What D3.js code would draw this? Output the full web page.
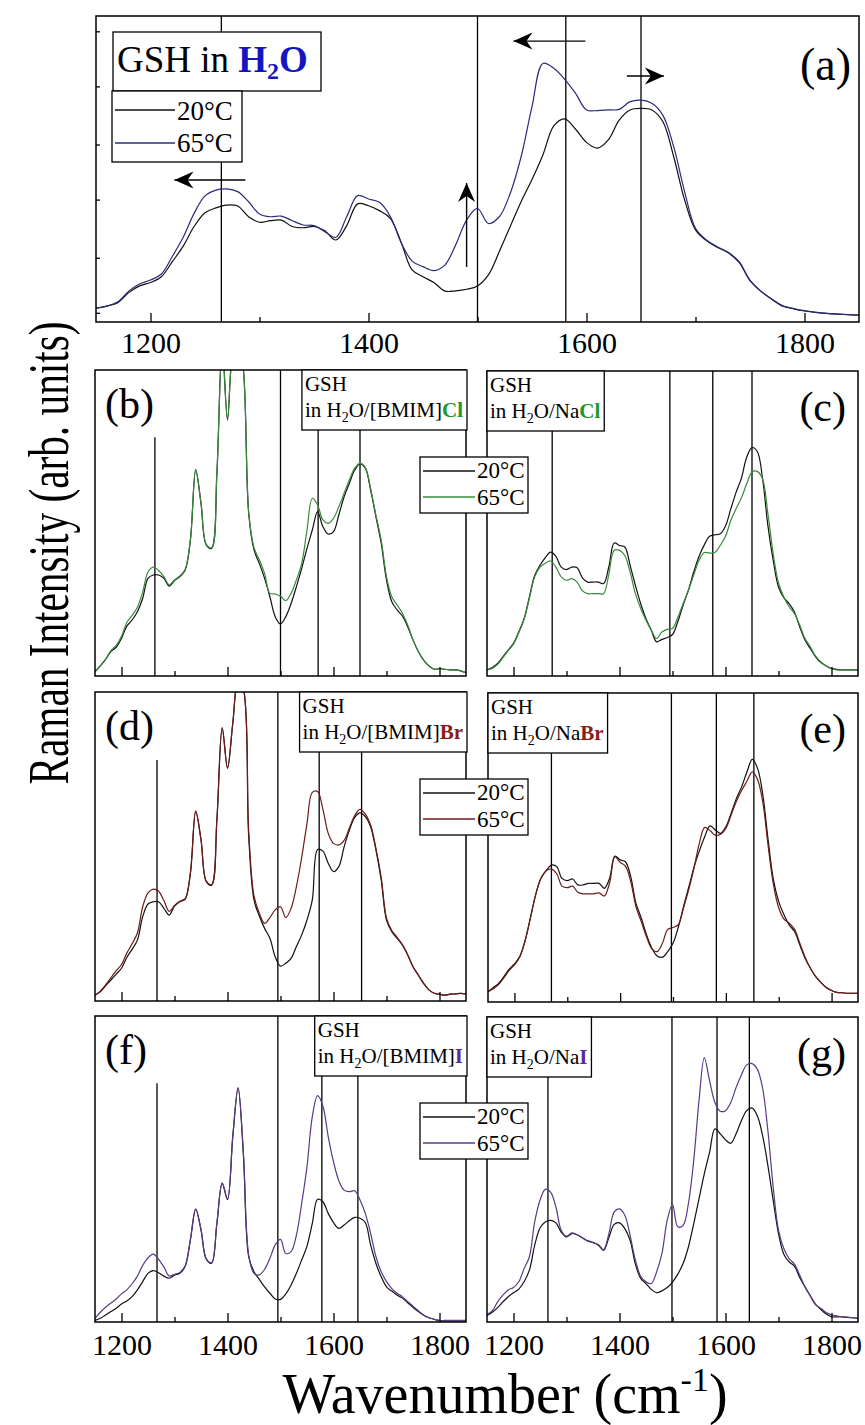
<!DOCTYPE html>
<html>
<head>
<meta charset="utf-8">
<script src="https://cdn.jsdelivr.net/npm/d3@7"></script>
<style>
  body { margin: 0; background: #fff; }
  svg { display: block; }
  svg text { font-family: 'Liberation Serif', 'Times New Roman', serif; }
</style>
</head>
<body>
<div id="chart"></div>
<script>
// wavenumber grid (cm-1)
const wn = [1150,1160,1170,1180,1190,1200,1210,1220,1230,1240,1250,1260,1270,1280,1290,1300,1310,1320,1330,1340,
  1350,1360,1370,1380,1390,1400,1410,1420,1430,1440,1450,1460,1470,1480,1490,1500,1510,1520,1530,1540,
  1550,1560,1570,1580,1590,1600,1610,1620,1630,1640,1650,1660,1670,1680,1690,1700,1710,1720,1730,1740,
  1750,1760,1770,1780,1790,1800,1810,1820,1830,1840,1850];

// intensities (arb. units, 0-100 = panel height), 20°C and 65°C
const aCold = [4.5,5.2,6.3,9.6,11.8,12.9,14.8,19.7,24.8,31.2,35.7,37.3,38.2,37.9,34.4,32.6,33.1,33.3,31.2,30.8,
  31.2,29.8,26.8,31.5,38.6,38.0,36.4,33.9,26.0,17.0,14.8,12.9,10.1,10.2,10.7,11.8,15.4,23.0,31.2,39.3,
  46.6,54.6,64.1,66.4,63.0,58.7,56.8,59.5,66.0,69.3,69.8,69.3,65.5,54.0,39.9,30.1,26.6,24.4,22.6,19.5,
  13.5,10.0,7.4,5.2,4.3,3.6,3.1,2.8,2.6,2.4,2.2];
const aHot = [4.5,5.2,6.6,10.1,12.4,13.7,15.7,21.4,27.7,35.5,41.2,43.1,43.5,42.6,39.3,35.3,34.4,34.6,33.1,31.7,
  31.5,29.5,27.7,34.4,41.3,40.2,39.1,34.5,25.9,19.9,18.1,16.8,18.6,25.2,33.3,37.1,32.2,34.4,42.0,54.0,
  70.4,84.5,82.9,79.3,74.7,69.3,69.1,69.3,69.5,72.0,72.5,71.5,67.6,57.3,42.6,30.6,26.8,24.6,22.8,19.7,
  13.7,10.1,7.5,5.3,4.4,3.7,3.2,2.8,2.6,2.4,2.3];
const bCold = [1.4,3.3,5.4,8.0,9.4,12.3,16.3,18.3,21.0,25.4,31.9,33.0,33.0,31.9,29.4,31.2,32.5,34.6,44.4,67.3,
  56.4,42.8,41.7,66.2,108,83.7,106,110,100,53.2,41.2,36.8,31.9,25.9,19.4,17.0,19.4,23.7,29.2,35.2,
  41.7,47.7,53.7,48.8,46.4,47.2,52.6,58.6,63.0,67.3,69.3,67.9,60.8,52.1,43.4,31.4,24.3,21.6,19.6,16.1,
  11.8,8.0,5.2,3.3,2.2,2.4,2.2,2.0,2.0,1.7,1.1];
const bHot = [1.4,3.3,5.4,8.3,10.0,13.0,17.5,19.8,22.5,27.5,34.0,35.6,34.5,32.5,29.8,31.4,32.7,34.8,44.6,67.5,
  56.6,43.0,41.9,66.4,108,84.0,106,110,100,53.5,42.0,38.0,33.5,27.0,26.8,26.1,24.6,27.0,31.4,36.8,
  47.7,58.1,55.9,51.0,49.9,51.5,55.3,59.7,64.1,67.9,69.5,68.2,61.3,52.6,44.4,32.5,25.9,23.2,20.5,16.7,
  11.8,8.0,5.2,3.3,2.2,2.4,2.2,2.0,2.0,1.7,1.1];
const cCold = [2.0,2.8,4.1,6.3,8.5,10.7,14.5,18.8,25.9,33.0,36.3,38.8,40.6,39.2,35.7,34.9,35.7,35.5,32.2,30.8,
  30.8,30.8,30.3,35.9,43.6,42.8,42.3,36.3,29.7,23.7,18.8,15.0,11.2,12.0,12.6,13.6,17.8,23.2,28.1,34.1,
  39.2,43.0,45.8,46.3,46.6,49.2,54.8,60.2,64.9,71.7,74.9,73.6,64.6,49.3,37.9,29.2,25.7,23.7,21.0,16.1,
  11.8,9.0,6.3,4.4,3.3,2.5,2.2,2.0,2.0,2.0,2.0];
const cHot = [2.0,2.5,3.8,6.0,8.3,10.5,14.2,18.5,25.5,32.5,35.7,37.0,37.7,35.7,32.5,31.4,31.9,30.8,27.9,27.0,
  27.0,27.0,27.0,33.5,41.2,41.2,39.5,34.1,27.0,22.1,18.3,15.0,12.3,14.4,15.3,15.6,19.2,23.7,28.1,33.0,
  37.9,40.5,40.3,40.5,42.8,45.8,51.0,54.8,58.4,63.0,66.9,67.1,64.6,53.2,40.1,30.5,25.9,22.7,20.5,16.7,
  12.3,9.6,6.5,4.6,3.3,2.4,2.0,2.0,2.0,2.0,2.0];
const dCold = [1.9,3.0,4.9,6.8,8.7,10.6,14.1,16.7,19.7,27.3,31.4,32.1,32.1,30.0,27.8,30.7,32.1,32.9,41.3,61.3,
  52.1,38.6,37.5,58.6,88.2,75.3,89.9,104,101,53.2,32.7,27.5,23.5,20.3,14.3,11.3,12.2,13.8,17.6,21.4,
  26.2,32.7,49.0,48.5,44.6,41.9,43.5,49.9,55.3,59.4,60.9,59.7,56.4,48.9,39.2,26.2,22.4,20.3,18.1,14.9,
  11.1,8.4,5.7,3.6,2.5,2.2,1.9,2.2,2.3,2.5,2.3];
const dHot = [1.9,3.2,5.2,7.5,9.8,11.8,15.5,18.5,22.0,30.5,35.0,36.2,35.5,32.5,29.0,30.9,32.3,33.1,41.5,61.5,
  52.3,38.8,37.7,58.8,88.5,75.5,90.0,104,101,55.0,34.0,28.4,25.1,27.0,29.5,30.5,27.0,30.0,37.0,46.5,
  57.5,67.5,67.8,62.0,54.3,51.0,50.5,52.0,56.0,60.0,62.0,60.5,57.0,49.5,40.0,26.8,22.8,20.6,18.3,15.0,
  11.1,8.4,5.7,3.6,2.5,2.2,1.9,2.2,2.3,2.5,2.3];
const eCold = [3.3,4.7,6.0,8.2,10.6,12.3,14.7,19.8,27.1,34.6,40.0,42.5,44.3,43.8,40.0,39.3,39.8,37.9,37.9,38.4,
  38.4,38.4,36.8,40.0,47.2,46.0,45.4,40.6,31.9,27.1,21.7,17.4,14.9,14.5,16.3,19.0,24.2,30.9,37.3,43.8,
  49.0,53.5,57.0,55.7,54.6,56.7,61.1,65.9,69.7,74.5,78.5,75.6,67.0,52.4,39.5,32.5,28.2,24.9,22.8,18.4,
  14.1,10.9,8.2,6.3,4.7,3.7,3.1,3.0,2.8,2.8,2.8];
const eHot = [3.3,4.3,5.6,7.8,10.2,12.0,14.5,19.6,27.0,34.6,40.0,42.5,43.0,41.5,37.5,37.0,37.5,35.5,35.0,35.0,
  35.0,35.3,34.3,38.5,47.0,45.2,44.0,39.0,30.8,26.0,21.0,17.2,16.3,19.0,23.5,24.1,25.0,30.5,36.5,43.5,
  51.5,56.5,55.5,54.0,54.3,56.2,60.5,65.0,68.5,71.5,74.5,72.0,64.5,50.5,38.0,30.5,26.8,25.5,23.5,19.0,
  14.5,10.9,8.2,6.3,4.7,3.7,3.1,3.0,2.8,2.8,2.8];
const fCold = [0.5,1.2,2.3,3.4,4.5,5.9,6.9,8.3,10.5,13.2,15.9,16.8,16.1,15.0,14.3,15.3,15.9,18.1,26.8,36.8,
  30.1,20.5,19.2,32.2,45.3,40.0,60.6,76.4,54.6,21.4,16.4,13.9,11.5,9.4,7.5,7.4,9.2,12.1,15.9,20.3,
  24.8,32.2,40.1,39.3,35.5,32.5,30.6,31.7,33.1,34.2,33.9,32.5,25.2,19.2,14.8,11.5,10.1,8.8,7.8,6.3,
  4.8,3.4,2.2,1.4,0.9,0.4,0.4,0.4,0.4,0.4,0.4];
const fHot = [1.2,3.2,4.8,6.2,7.5,9.2,10.5,12.5,15.0,18.5,21.0,22.2,20.5,18.0,15.0,15.6,16.2,18.3,27.0,37.0,
  30.3,20.7,19.4,32.4,45.5,40.2,60.8,76.6,55.2,21.8,15.9,15.4,17.2,20.8,25.2,27.0,22.4,23.0,28.4,38.8,
  50.8,67.1,74.0,70.6,60.6,52.4,46.2,43.1,42.6,42.9,39.9,35.5,29.0,21.4,16.4,13.2,10.9,9.4,8.3,6.6,
  5.2,3.7,2.3,1.4,0.9,0.5,0.5,0.5,0.5,0.5,0.5];
const gCold = [2.1,3.2,4.7,6.6,8.3,9.6,10.8,13.2,17.0,25.2,30.8,32.8,33.3,32.5,29.5,27.9,29.0,28.6,27.6,26.6,
  26.1,25.2,23.5,27.7,32.0,32.5,30.6,26.8,19.0,14.3,12.6,10.7,9.6,10.2,11.3,13.1,15.7,19.2,24.6,32.2,
  40.4,48.6,55.7,63.3,61.7,59.7,58.6,61.7,66.0,69.3,70.2,67.6,61.1,51.3,39.9,29.0,22.2,19.7,18.3,14.6,
  11.5,8.6,5.8,4.1,2.6,1.7,1.7,1.7,1.5,1.4,1.2];
const gHot = [2.5,3.7,6.6,8.8,10.5,11.3,13.2,17.5,21.4,32.8,39.9,43.5,42.6,37.7,30.1,28.1,29.2,28.6,27.6,26.6,
  26.0,25.4,23.7,29.0,36.1,37.1,35.0,28.4,20.3,15.0,13.2,12.6,16.4,22.4,33.3,38.6,31.2,31.7,38.8,52.9,
  72.5,86.7,79.1,72.0,69.1,69.3,72.0,76.9,81.0,84.3,84.7,82.9,76.7,62.7,44.2,30.1,24.1,20.8,19.0,15.4,
  11.5,8.5,5.6,4.5,3.1,2.3,2.0,1.7,1.6,1.4,1.2];

// reference band positions (cm-1) per panel
const aMarks = [1265, 1500, 1581, 1650];
const bMarks = [1263, 1500, 1571, 1650];
const cMarks = [1273, 1495, 1576, 1650];
const dMarks = [1267, 1495, 1573, 1653];
const eMarks = [1270, 1497, 1582, 1653];
const fMarks = [1267, 1495, 1578, 1646];
const gMarks = [1265, 1499, 1584, 1645];

// axis ticks
const majorTicks = [1200, 1400, 1600, 1800];
const minorTicks = [1300, 1500, 1700];
const aTicksY = [3, 21, 40, 58, 77, 95];
const seriesNames = ["20°C", "65°C"];

// shift arrows in (a): [wavenumber, intensity] start -> end
const aArrows = [
  { from: [1287, 46.4], to: [1222, 46.4] },
  { from: [1490, 18.0], to: [1490, 45.4] },
  { from: [1599, 91.8], to: [1533, 91.8] },
  { from: [1637, 80.4], to: [1671, 80.4] }
];

const SERIF = "'Liberation Serif', 'Times New Roman', serif";
const W = 865, H = 1425;
const svg = d3.select("#chart").append("svg")
    .attr("width", W).attr("height", H)
    .style("font-family", SERIF);

svg.append("defs").append("marker")
    .attr("id", "head")
    .attr("viewBox", "-20 -10 20 20")
    .attr("refX", 0).attr("refY", 0)
    .attr("markerWidth", 20).attr("markerHeight", 20)
    .attr("markerUnits", "userSpaceOnUse")
    .attr("orient", "auto")
  .append("path")
    .attr("d", "M0,0 L-19,-8.5 L-13,0 L-19,8.5 Z")
    .attr("fill", "#000");

const panels = [
  { id: "a", tag: "(a)", cold: aCold, hot: aHot, color: "#2b2b7c", marks: aMarks,
    x0: 96, x1: 859, y0: 16, y1: 322, side: "top", labels: true, labelPad: 10 },
  { id: "b", tag: "(b)", cold: bCold, hot: bHot, color: "#3b8a3b", marks: bMarks,
    x0: 95, x1: 466, y0: 370, y1: 676, side: "left", salt: "[BMIM]", ion: "Cl", ionColor: "#22962a" },
  { id: "c", tag: "(c)", cold: cCold, hot: cHot, color: "#3b8a3b", marks: cMarks,
    x0: 487, x1: 858, y0: 371, y1: 676, side: "right", salt: "Na", ion: "Cl", ionColor: "#22962a" },
  { id: "d", tag: "(d)", cold: dCold, hot: dHot, color: "#6e1b1b", marks: dMarks,
    x0: 95, x1: 466, y0: 692, y1: 1001, side: "left", salt: "[BMIM]", ion: "Br", ionColor: "#8a1c1c" },
  { id: "e", tag: "(e)", cold: eCold, hot: eHot, color: "#6e1b1b", marks: eMarks,
    x0: 488, x1: 858, y0: 693, y1: 1002, side: "right", salt: "Na", ion: "Br", ionColor: "#8a1c1c" },
  { id: "f", tag: "(f)", cold: fCold, hot: fHot, color: "#5a3a88", marks: fMarks,
    x0: 95, x1: 466, y0: 1016, y1: 1322, side: "left", salt: "[BMIM]", ion: "I", ionColor: "#5b2a9c",
    labels: true, labelPad: 12 },
  { id: "g", tag: "(g)", cold: gCold, hot: gHot, color: "#5a3a88", marks: gMarks,
    x0: 487, x1: 858, y0: 1017, y1: 1322, side: "right", salt: "Na", ion: "I", ionColor: "#5b2a9c",
    labels: true, labelPad: 12 }
];

function drawPanel(p) {
  const x = d3.scaleLinear().domain([1150, 1850]).range([p.x0, p.x1]);
  const y = d3.scaleLinear().domain([0, 100]).range([p.y1, p.y0]);
  const g = svg.append("g").attr("class", "panel-" + p.id);

  svg.select("defs").append("clipPath").attr("id", "clip-" + p.id)
    .append("rect")
      .attr("x", p.x0).attr("y", p.y0)
      .attr("width", p.x1 - p.x0).attr("height", p.y1 - p.y0);

  // band markers
  g.selectAll(".mark")
    .data(p.marks)
    .join("line")
      .attr("class", "mark")
      .attr("x1", d => x(d)).attr("x2", d => x(d))
      .attr("y1", (d, i) => y(p.side === "left" && i === 0 ? 78 : 100))
      .attr("y2", p.y1)
      .attr("stroke", "#000")
      .attr("stroke-width", 1.3);

  // spectra
  const line = d3.line()
    .x((d, i) => x(wn[i]))
    .y(d => y(d))
    .curve(d3.curveCatmullRom.alpha(0.5));

  g.append("path").datum(p.cold)
    .attr("d", line)
    .attr("clip-path", `url(#clip-${p.id})`)
    .attr("fill", "none").attr("stroke", "#111").attr("stroke-width", 1.2);

  g.append("path").datum(p.hot)
    .attr("d", line)
    .attr("clip-path", `url(#clip-${p.id})`)
    .attr("fill", "none").attr("stroke", p.color).attr("stroke-width", 1.2);

  // bottom ticks (inward)
  const major = g.append("g")
    .attr("transform", `translate(0,${p.y1})`)
    .call(d3.axisBottom(x).tickValues(majorTicks).tickSize(-9)
      .tickPadding(p.labelPad || 0)
      .tickFormat(p.labels ? d3.format("d") : () => ""));
  major.attr("font-family", null);
  major.select(".domain").remove();
  major.selectAll("line").attr("stroke-width", 1.3);
  major.selectAll("text").attr("font-size", 30).attr("fill", "#000");

  const minor = g.append("g")
    .attr("transform", `translate(0,${p.y1})`)
    .call(d3.axisBottom(x).tickValues(minorTicks).tickSize(-5).tickFormat(() => ""));
  minor.select(".domain").remove();
  minor.selectAll("line").attr("stroke-width", 1.3);

  if (p.id === "a") {
    const left = g.append("g")
      .attr("transform", `translate(${p.x0},0)`)
      .call(d3.axisLeft(y).tickValues(aTicksY).tickSize(-4).tickFormat(() => ""));
    left.select(".domain").remove();
    left.selectAll("line").attr("stroke-width", 1.3);
  }

  // frame
  g.append("rect")
    .attr("x", p.x0).attr("y", p.y0)
    .attr("width", p.x1 - p.x0).attr("height", p.y1 - p.y0)
    .attr("fill", "none").attr("stroke", "#000").attr("stroke-width", 1.5);

  // panel tag
  if (p.id === "a") {
    g.append("text").attr("x", p.x1 - 8).attr("y", p.y0 + 64)
      .attr("text-anchor", "end").attr("font-size", 46).text(p.tag);
  } else if (p.side === "left") {
    g.append("text").attr("x", p.x0 + 10).attr("y", p.y0 + 48)
      .attr("font-size", 42).text(p.tag);
  } else {
    g.append("text").attr("x", p.x1 - 12).attr("y", p.y0 + 50)
      .attr("text-anchor", "end").attr("font-size", 42).text(p.tag);
  }

  if (p.id === "a") drawLegendA(g, p, x, y);
  else drawSampleBox(g, p);
}

function drawLegendA(g, p, x, y) {
  // title box
  g.append("rect").attr("x", 113).attr("y", 32).attr("width", 208).attr("height", 59)
    .attr("fill", "#fff").attr("stroke", "#000").attr("stroke-width", 1.3);
  const t = g.append("text").attr("x", 117).attr("y", 72).attr("font-size", 37);
  t.append("tspan").text("GSH in ");
  const hb = t.append("tspan").attr("font-weight", "bold").attr("fill", "#1515c0");
  hb.append("tspan").text("H");
  hb.append("tspan").attr("font-size", 24).attr("dy", 7).text("2");
  hb.append("tspan").attr("dy", -7).text("O");

  // series legend
  g.append("rect").attr("x", 112).attr("y", 91).attr("width", 130).attr("height", 71)
    .attr("fill", "#fff").attr("stroke", "#000").attr("stroke-width", 1.3);
  const rows = g.selectAll(".lgA").data(seriesNames).join("g").attr("class", "lgA");
  rows.append("line")
    .attr("x1", 115).attr("x2", 175)
    .attr("y1", (d, i) => 110 + i * 33).attr("y2", (d, i) => 110 + i * 33)
    .attr("stroke", (d, i) => i ? p.color : "#111").attr("stroke-width", 1.3);
  rows.append("text")
    .attr("x", 177).attr("y", (d, i) => 120 + i * 32)
    .attr("font-size", 27).text(d => d);

  // arrows
  g.selectAll(".arrow").data(aArrows).join("line")
    .attr("class", "arrow")
    .attr("x1", d => x(d.from[0])).attr("y1", d => y(d.from[1]))
    .attr("x2", d => x(d.to[0])).attr("y2", d => y(d.to[1]))
    .attr("stroke", "#000").attr("stroke-width", 1.4)
    .attr("marker-end", "url(#head)");
}

function drawSampleBox(g, p) {
  const lg = g.append("g");
  const t1 = lg.append("text").attr("font-size", 21).text("GSH");
  const t2 = lg.append("text").attr("font-size", 21);
  t2.append("tspan").text("in H");
  t2.append("tspan").attr("font-size", 14).attr("dy", 5).text("2");
  t2.append("tspan").attr("dy", -5).text("O/" + p.salt);
  t2.append("tspan").attr("font-weight", "bold").attr("fill", p.ionColor).text(p.ion);
  const w = Math.max(t1.node().getComputedTextLength(), t2.node().getComputedTextLength()) + 7;
  const bx = p.side === "left" ? p.x1 + 1 - w : p.x0;
  lg.insert("rect", "text")
    .attr("x", bx).attr("y", p.y0).attr("width", w).attr("height", 60)
    .attr("fill", "#fff").attr("stroke", "#000").attr("stroke-width", 1.3);
  t1.attr("x", bx + 3).attr("y", p.y0 + 21);
  t2.attr("x", bx + 3).attr("y", p.y0 + 47);
}

panels.forEach(drawPanel);

// temperature legends straddling the two columns
panels.filter(p => p.side === "left").forEach(p => {
  const top = p.y0 + 87;
  const lg = svg.append("g");
  lg.append("rect").attr("x", 420).attr("y", top).attr("width", 108).attr("height", 56)
    .attr("fill", "#fff").attr("stroke", "#000").attr("stroke-width", 1.3);
  const rows = lg.selectAll("g").data(seriesNames).join("g");
  rows.append("line")
    .attr("x1", 423).attr("x2", 475)
    .attr("y1", (d, i) => top + 14 + i * 26).attr("y2", (d, i) => top + 14 + i * 26)
    .attr("stroke", (d, i) => i ? p.color : "#111").attr("stroke-width", 1.3);
  rows.append("text")
    .attr("x", 477).attr("y", (d, i) => top + 21 + i * 27)
    .attr("font-size", 23).text(d => d);
});

// axis titles
svg.append("text")
  .attr("transform", "translate(68,553) rotate(-90)")
  .attr("text-anchor", "middle")
  .attr("font-size", 56)
  .attr("textLength", 463)
  .attr("lengthAdjust", "spacingAndGlyphs")
  .text("Raman Intensity (arb. units)");

const xt = svg.append("text")
  .attr("x", 505).attr("y", 1413)
  .attr("text-anchor", "middle")
  .attr("font-size", 56);
xt.append("tspan").text("Wavenumber (cm");
xt.append("tspan").attr("font-size", 34).attr("dy", -22).text("-1");
xt.append("tspan").attr("dy", 22).text(")");

// make sure every label uses the serif face
svg.selectAll("text").style("font-family", SERIF);
</script>
</body>
</html>
